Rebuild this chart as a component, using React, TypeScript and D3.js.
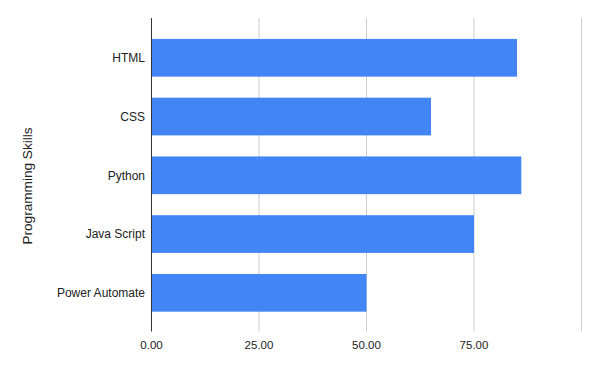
import React from "react";
import * as d3 from "d3";

// Data
const skills = ["HTML", "CSS", "Python", "Java Script", "Power Automate"];
const scores = [85, 65, 86, 75, 50];
const xTicks = [0, 25, 50, 75, 100];

const width = 600;
const height = 371;
const plot = { left: 151.5, right: 581.5, top: 18, bottom: 331.5 };

const App = () => {
  const x = d3.scaleLinear().domain([0, 100]).range([plot.left, plot.right]);
  const y = d3
    .scaleBand()
    .domain(skills)
    .range([28.4, 322.2])
    .paddingInner(0.358)
    .paddingOuter(0.179);

  const font = "Arial, 'Liberation Sans', sans-serif";

  return (
    <svg width={width} height={height} style={{ position: "absolute", left: 0, top: 0, background: "#fff" }}>
      {/* gridlines */}
      {xTicks.filter((t) => t > 0).map((t) => (
        <line key={t} x1={x(t)} x2={x(t)} y1={plot.top} y2={plot.bottom} stroke="#cccccc" strokeWidth={1} />
      ))}

      {/* bars */}
      {skills.map((s, i) => (
        <rect
          key={s}
          x={x(0)}
          y={y(s)}
          width={x(scores[i]) - x(0)}
          height={y.bandwidth()}
          fill="#4285f4"
        />
      ))}

      {/* zero axis */}
      <line x1={x(0)} x2={x(0)} y1={plot.top} y2={plot.bottom} stroke="#333333" strokeWidth={1} />

      {/* x tick labels */}
      {xTicks.slice(0, 4).map((t) => (
        <text key={t} x={x(t)} y={349} textAnchor="middle" fontFamily={font} fontSize={11.5} fill="#222">
          {d3.format(".2f")(t)}
        </text>
      ))}

      {/* category labels */}
      {skills.map((s) => (
        <text
          key={s}
          x={145}
          y={(y(s) || 0) + y.bandwidth() / 2}
          dy="0.35em"
          textAnchor="end"
          fontFamily={font}
          fontSize={12}
          fill="#222"
        >
          {s}
        </text>
      ))}

      {/* y title */}
      <text
        transform={`translate(32, 186) rotate(-90)`}
        textAnchor="middle"
        fontFamily={font}
        fontSize={13.6}
        fill="#222"
      >
        Programming Skills
      </text>
    </svg>
  );
};

export default App;
